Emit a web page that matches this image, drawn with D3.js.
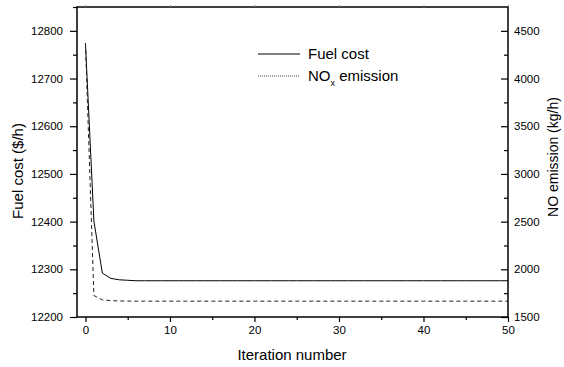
<!DOCTYPE html>
<html>
<head>
<meta charset="utf-8">
<script src="https://cdn.jsdelivr.net/npm/d3@7"></script>
<style>
  body { margin: 0; background: #fff; }
  text { font-family: "Liberation Sans", Arial, sans-serif; fill: #000; }
</style>
</head>
<body>
<div id="chart"></div>
<script>
// iterations 0..50
let iterations = [0,1,2,3,4,5,6,7,8,9,10,11,12,13,14,15,16,17,18,19,20,21,22,23,24,25,
  26,27,28,29,30,31,32,33,34,35,36,37,38,39,40,41,42,43,44,45,46,47,48,49,50];

let fuelCost = [12774,12401,12292,12281,12278,12277,12276,12276,12276,12276,12276,
  12276,12276,12276,12276,12276,12276,12276,12276,12276,12276,12276,12276,12276,12276,
  12276,12276,12276,12276,12276,12276,12276,12276,12276,12276,12276,12276,12276,12276,
  12276,12276,12276,12276,12276,12276,12276,12276,12276,12276,12276,12276];

let noxEmission = [4371,1725,1680,1672,1668,1667,1666,1666,1666,1666,1666,
  1666,1666,1666,1666,1666,1666,1666,1666,1666,1666,1666,1666,1666,1666,
  1666,1666,1666,1666,1666,1666,1666,1666,1666,1666,1666,1666,1666,1666,
  1666,1666,1666,1666,1666,1666,1666,1666,1666,1666,1666,1666];

let xTicks = [0, 10, 20, 30, 40, 50];
let xMinor = [5, 15, 25, 35, 45];
let leftTicks = [12200, 12300, 12400, 12500, 12600, 12700, 12800];
let leftMinor = [12250, 12350, 12450, 12550, 12650, 12750, 12850];
let rightTicks = [1500, 2000, 2500, 3000, 3500, 4000, 4500];
let rightMinor = [1750, 2250, 2750, 3250, 3750, 4250];

let margin = {top: 7, right: 56, bottom: 50, left: 77},
  width = 564 - margin.left - margin.right,
  height = 367 - margin.top - margin.bottom;

let svg = d3.select("#chart").append("svg")
  .attr("width", 564)
  .attr("height", 367)
  .append("g")
  .attr("transform", "translate(" + margin.left + "," + margin.top + ")");

let x = d3.scaleLinear().domain([-1, 50]).range([0, width]);
let yL = d3.scaleLinear().domain([12200, 12850]).range([height, 0]);
let yR = d3.scaleLinear().domain([1500, 4750]).range([height, 0]);

// frame
svg.append("rect")
  .attr("width", width).attr("height", height)
  .attr("fill", "none").attr("stroke", "#000").attr("stroke-width", 1.5);

function styleAxis(g) {
  g.select(".domain").remove();
  g.selectAll("line").attr("stroke", "#000").attr("stroke-width", 1.2);
  g.selectAll("text").style("font-size", "11.5px");
}

// bottom axis
svg.append("g")
  .attr("transform", "translate(0," + height + ")")
  .call(d3.axisBottom(x).tickValues(xTicks).tickSize(5).tickPadding(4))
  .call(styleAxis);
svg.append("g")
  .attr("transform", "translate(0," + height + ")")
  .call(d3.axisBottom(x).tickValues(xMinor).tickSize(3).tickFormat(""))
  .call(styleAxis);

// top small ticks
svg.append("g")
  .call(d3.axisTop(x).tickValues(xTicks).tickSize(2).tickFormat(""))
  .call(styleAxis)
  .selectAll("line").attr("stroke", "#888").attr("stroke-width", 1);

// left axis
svg.append("g")
  .call(d3.axisLeft(yL).tickValues(leftTicks).tickSize(7).tickPadding(7).tickFormat(d3.format("d")))
  .call(styleAxis);
svg.append("g")
  .call(d3.axisLeft(yL).tickValues(leftMinor).tickSize(4).tickFormat(""))
  .call(styleAxis);

// right axis (ticks point inward)
let rightG = svg.append("g")
  .attr("transform", "translate(" + width + ",0)")
  .call(d3.axisRight(yR).tickValues(rightTicks).tickSize(0).tickPadding(6).tickFormat(d3.format("d")))
  .call(styleAxis);
rightG.selectAll("line").attr("x1", -7).attr("x2", 0);
let rightMinorG = svg.append("g")
  .attr("transform", "translate(" + width + ",0)")
  .call(d3.axisRight(yR).tickValues(rightMinor).tickSize(0).tickFormat(""))
  .call(styleAxis);
rightMinorG.selectAll("line").attr("x1", -4).attr("x2", 0);

// lines
let fuelLine = d3.line()
  .x(function (d, i) { return x(iterations[i]); })
  .y(function (d) { return yL(d); });
let noxLine = d3.line()
  .x(function (d, i) { return x(iterations[i]); })
  .y(function (d) { return yR(d); });

svg.append("path")
  .datum(fuelCost)
  .attr("d", fuelLine)
  .attr("fill", "none")
  .attr("stroke", "#000")
  .attr("stroke-width", 1);

svg.append("path")
  .datum(noxEmission)
  .attr("d", noxLine)
  .attr("fill", "none")
  .attr("stroke", "#222")
  .attr("stroke-width", 1)
  .style("stroke-dasharray", "4,3");

// legend
let legend = svg.append("g").attr("transform", "translate(" + (258 - margin.left) + "," + (54 - margin.top) + ")");
legend.append("line").attr("x1", 0).attr("x2", 42).attr("y1", 0).attr("y2", 0)
  .attr("stroke", "#000").attr("stroke-width", 1);
legend.append("text").attr("x", 50).attr("y", 5).style("font-size", "15px").text("Fuel cost");
legend.append("line").attr("x1", 0).attr("x2", 42).attr("y1", 22).attr("y2", 22)
  .attr("stroke", "#444").attr("stroke-width", 1).style("stroke-dasharray", "1,1");
let noxText = legend.append("text").attr("x", 50).attr("y", 27).style("font-size", "15px");
noxText.append("tspan").text("NO");
noxText.append("tspan").attr("dy", 5).style("font-size", "9px").text("x");
noxText.append("tspan").attr("dy", -5).text(" emission");

// axis titles
svg.append("text")
  .attr("x", 292 - margin.left).attr("y", 360 - margin.top)
  .attr("text-anchor", "middle").style("font-size", "15px")
  .text("Iteration number");

svg.append("text")
  .attr("transform", "translate(" + (23 - margin.left) + "," + (171 - margin.top) + ") rotate(-90)")
  .attr("text-anchor", "middle").style("font-size", "15px")
  .text("Fuel cost ($/h)");

svg.append("text")
  .attr("transform", "translate(" + (558 - margin.left) + "," + (157 - margin.top) + ") rotate(-90)")
  .attr("text-anchor", "middle").style("font-size", "14px")
  .text("NO emission (kg/h)");
</script>
</body>
</html>
